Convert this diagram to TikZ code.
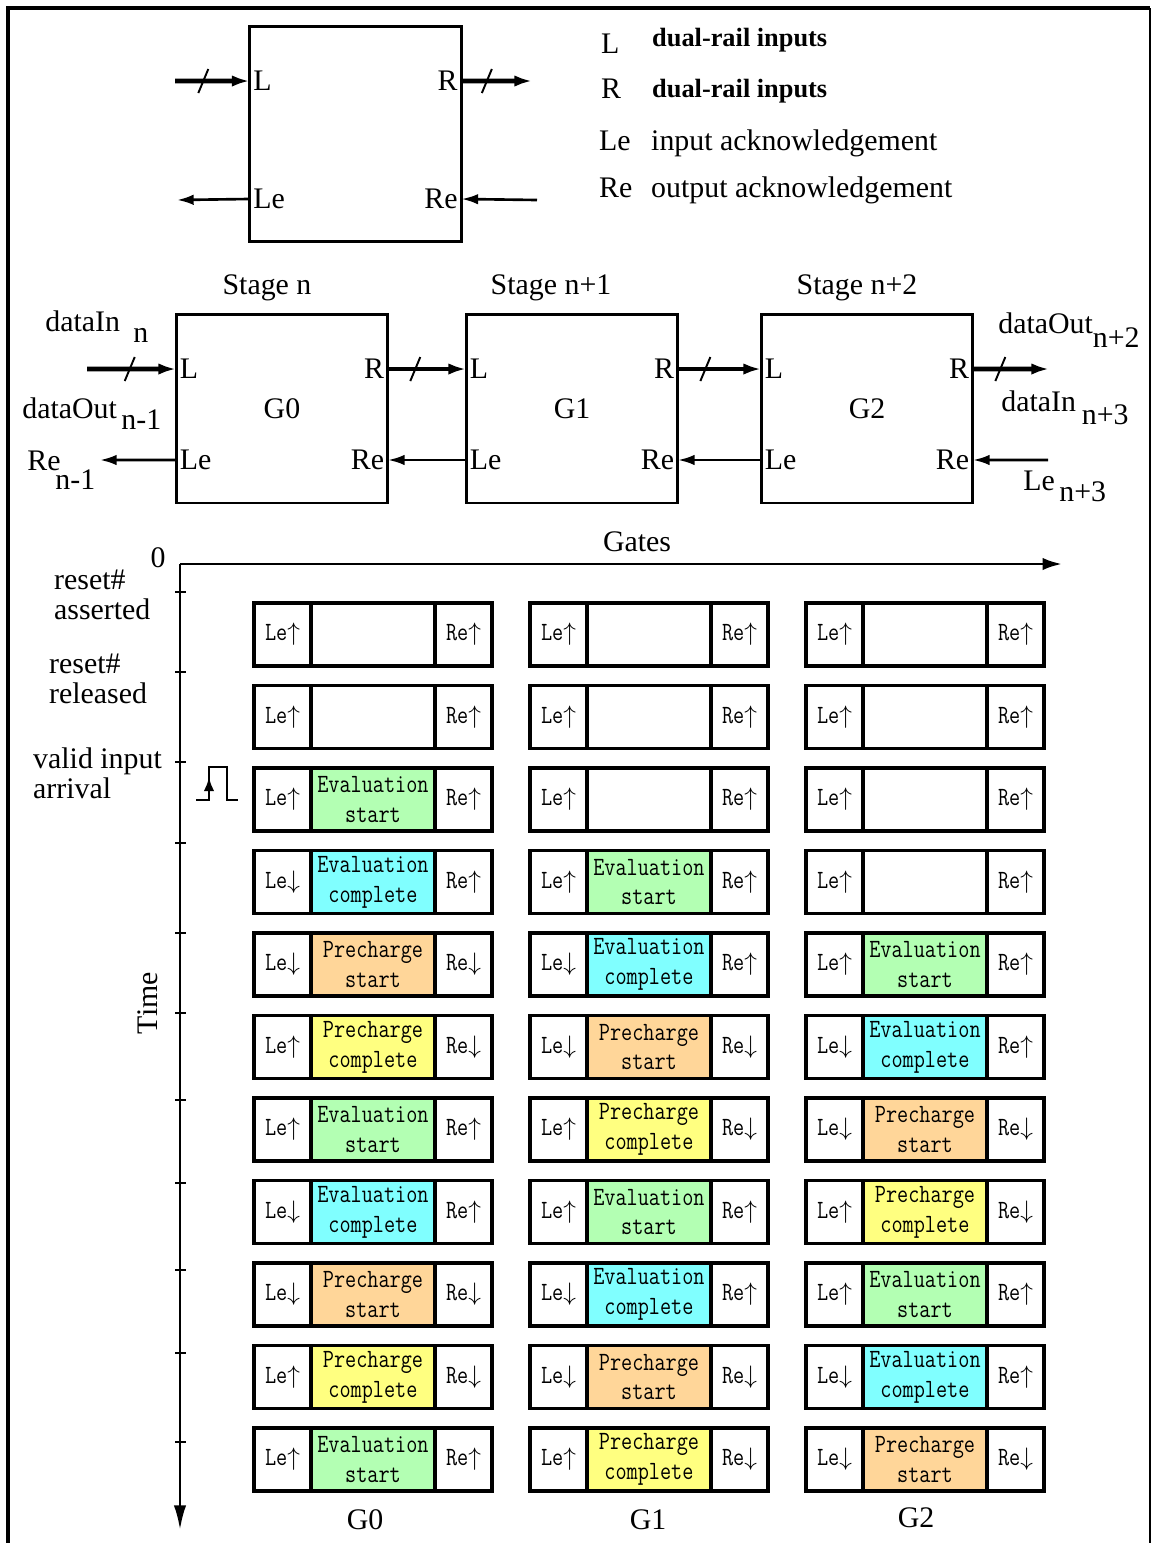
\documentclass[tikz,border=0pt]{standalone}
\usepackage{fontspec}
\setmainfont{Liberation Serif}
\newfontfamily\cellfont[FakeStretch=0.82]{Latin Modern Mono}
\usepackage{xcolor}
\definecolor{stE}{RGB}{255,255,255}
\definecolor{stES}{RGB}{179,255,179}
\definecolor{stEC}{RGB}{128,255,255}
\definecolor{stPS}{RGB}{255,214,153}
\definecolor{stPC}{RGB}{255,255,128}
\usepackage{tikz}
\usetikzlibrary{positioning,arrows.meta,calc}
\tikzset{
  box/.style={draw,line width=1.7pt,outer sep=0pt,minimum width=4.24cm,inner sep=0pt},
  port/.style={inner sep=2pt},
  bus/.style={line width=2.8pt,-{Latex[length=10pt,width=6.5pt]}},
  ack/.style={line width=1.5pt,-{Latex[length=9.5pt,width=6pt]}},
  axis/.style={line width=1.6pt},
  cellside/.style={draw,line width=2.2pt,outer sep=0pt,inner sep=0pt,minimum width=1.14cm,
    minimum height=1.26cm,font=\cellfont\fontsize{15}{17}\selectfont},
  cellmid/.style={cellside,minimum width=2.48cm,align=center}
}
% state of one gate: Le arrow, Re arrow, text
\newcommand{\leE}{\uparrow}\newcommand{\reE}{\uparrow}\newcommand{\txtE}{}
\newcommand{\leES}{\uparrow}\newcommand{\reES}{\uparrow}\newcommand{\txtES}{Evaluation\\start}
\newcommand{\leEC}{\downarrow}\newcommand{\reEC}{\uparrow}\newcommand{\txtEC}{Evaluation\\complete}
\newcommand{\lePS}{\downarrow}\newcommand{\rePS}{\downarrow}\newcommand{\txtPS}{Precharge\\start}
\newcommand{\lePC}{\uparrow}\newcommand{\rePC}{\downarrow}\newcommand{\txtPC}{Precharge\\complete}
\newcommand{\gatecell}[3]{% column, row, state
  \node[cellside,anchor=north west] (c#1r#2l) at ({254+276*#1},{603+82.5*(#2-1)})
    {Le$\csname le#3\endcsname$};
  \node[cellmid,fill=st#3,right=0pt of c#1r#2l] (c#1r#2m) {\csname txt#3\endcsname};
  \node[cellside,right=0pt of c#1r#2m] (c#1r#2r) {Re$\csname re#3\endcsname$};}
\newcommand{\stageports}[1]{%
  \coordinate (#1L) at ($(#1.north west)+(0,55)$);
  \coordinate (#1R) at ($(#1.north east)+(0,55)$);
  \coordinate (#1Le) at ($(#1.south west)+(0,-43)$);
  \coordinate (#1Re) at ($(#1.south east)+(0,-43)$);
  \node[port,anchor=west] (#1Lt) at (#1L) {L};
  \node[port,anchor=east] (#1Rt) at (#1R) {R};
  \node[port,anchor=west] (#1Let) at (#1Le) {Le};
  \node[port,anchor=east] (#1Ret) at (#1Re) {Re};}
\newcommand{\busslash}[1]{\draw[line width=1.1pt] ($(#1)+(-5,12)$) -- ($(#1)+(5,-12)$);}
\newcommand{\lowsub}[2]{\raisebox{#1}{#2}}

\begin{document}
\begin{tikzpicture}[x=0.02cm,y=-0.02cm,font=\fontsize{17}{17}\selectfont]
  \useasboundingbox (0,0) rectangle (1152,1543);
  \draw[line width=2.6pt] (8,1543) -- (8,8) -- (1150,8);
  \draw[line width=1.1pt] (1150,8) -- (1150,1543);

  % single stage with its ports
  \node[box,minimum height=4.32cm] (blk) at (355.5,134) {};
  \stageports{blk}
  \coordinate (blkin) at (175,81);
  \coordinate (blkout) at (532,81);
  \coordinate (blkack) at (177,200);
  \coordinate (blkreq) at (537,200);
  \draw[bus] (blkin) -- coordinate[pos=.38] (s1) (blkL); \busslash{s1}
  \draw[bus] (blkR) -- coordinate[pos=.36] (s2) (blkout); \busslash{s2}
  \draw[ack] (blkLe) -- (blkack);
  \draw[ack] (blkreq) -- (blkRe);

  % legend
  \node[anchor=base west] (kL) at (595,53) {L};
  \node[anchor=base west,font=\bfseries\fontsize{15}{17}\selectfont] (kLt) at (646,46) {dual-rail inputs};
  \node[anchor=base west] (kR) at (595,98) {R};
  \node[anchor=base west,font=\bfseries\fontsize{15}{17}\selectfont] (kRt) at (646,97) {dual-rail inputs};
  \node[anchor=base west] (kLe) at (593,150) {Le};
  \node[anchor=base west] (kLet) at (645,150) {input acknowledgement};
  \node[anchor=base west] (kRe) at (593,197) {Re};
  \node[anchor=base west] (kRet) at (645,197) {output acknowledgement};

  % pipeline of three stages
  \node[box,minimum height=3.78cm] (g0) at (282,408.5) {G0};
  \node[box,minimum height=3.78cm] (g1) at (572,408.5) {G1};
  \node[box,minimum height=3.78cm] (g2) at (867,408.5) {G2};
  \stageports{g0}
  \stageports{g1}
  \stageports{g2}
  \node (st0) at (267,288) {Stage n};
  \node (st1) at (551,288) {Stage n+1};
  \node (st2) at (857,288) {Stage n+2};
  \coordinate (din) at (87,369);
  \coordinate (dout) at (1049,369);
  \coordinate (reout) at (100,460);
  \coordinate (lein) at (1048,460);
  \draw[bus] (din) -- coordinate[pos=.48] (s3) (g0L); \busslash{s3}
  \draw[bus] (g0R) -- coordinate[pos=.35] (s4) (g1L); \busslash{s4}
  \draw[bus] (g1R) -- coordinate[pos=.33] (s5) (g2L); \busslash{s5}
  \draw[bus] (g2R) -- coordinate[pos=.36] (s6) (dout); \busslash{s6}
  \draw[ack] (g0Le) -- (reout);
  \draw[ack] (g1Le) -- (g0Re);
  \draw[ack] (g2Le) -- (g1Re);
  \draw[ack] (lein) -- (g2Re);
  \node[anchor=base west,inner sep=0pt] (dinlbl) at (45,331) {dataIn\hspace{0.45em}\lowsub{-0.4em}{n}};
  \node[anchor=base west,inner sep=0pt] (doutlbl) at (22,418) {dataOut\hspace{0.15em}\lowsub{-0.4em}{n-1}};
  \node[anchor=base west,inner sep=0pt] (relbl) at (27,470) {Re\hspace{-0.17em}\lowsub{-0.65em}{n-1}};
  \node[anchor=base west,inner sep=0pt] (dout2lbl) at (998,333) {dataOut\lowsub{-0.5em}{n+2}};
  \node[anchor=base west,inner sep=0pt] (din3lbl) at (1001,411) {dataIn\hspace{0.2em}\lowsub{-0.45em}{n+3}};
  \node[anchor=base west,inner sep=0pt] (le3lbl) at (1023,490) {Le\hspace{0.15em}\lowsub{-0.4em}{n+3}};

  % timing chart
  \coordinate (origin) at (180,564);
  \coordinate (gatesend) at (1062,564);
  \coordinate (timeend) at (180,1530);
  \draw[axis,-{Latex[length=11pt,width=7pt]}] (origin) -- (gatesend);
  \draw[axis,-{Latex[length=14pt,width=7pt]}] (origin) -- (timeend);
  \foreach \t in {592,672,762,843,933,1013,1100,1183,1270,1353,1442}
    \draw[line width=1.6pt] (175,\t) -- (186,\t);
  \node (zero) at (158,558) {0};
  \node (gates) at (637,542) {Gates};
  \node[rotate=90] (time) at (148,1003) {Time};
  \node[anchor=west,align=left] (rsta) at (48,595) {reset\#\\asserted};
  \node[anchor=west,align=left] (rstr) at (43,679) {reset\#\\released};
  \node[anchor=west,align=left] (valid) at (27,773) {valid input\\arrival};
  \draw[line width=1.5pt] (196,800) -- (209,800) -- (209,767) -- (227,767) -- (227,800) -- (238,800);
  \draw[line width=1.5pt,-{Latex[length=8pt,width=6pt]}] (209,800) -- (209,777);

  \foreach \st [count=\r] in {E,E,ES,EC,PS,PC,ES,EC,PS,PC,ES} {\gatecell{0}{\r}{\st}}
  \foreach \st [count=\r] in {E,E,E,ES,EC,PS,PC,ES,EC,PS,PC} {\gatecell{1}{\r}{\st}}
  \foreach \st [count=\r] in {E,E,E,E,ES,EC,PS,PC,ES,EC,PS} {\gatecell{2}{\r}{\st}}
  \node (col0) at (365,1520) {G0};
  \node (col1) at (648,1520) {G1};
  \node (col2) at (916,1518) {G2};
\end{tikzpicture}
\end{document}
